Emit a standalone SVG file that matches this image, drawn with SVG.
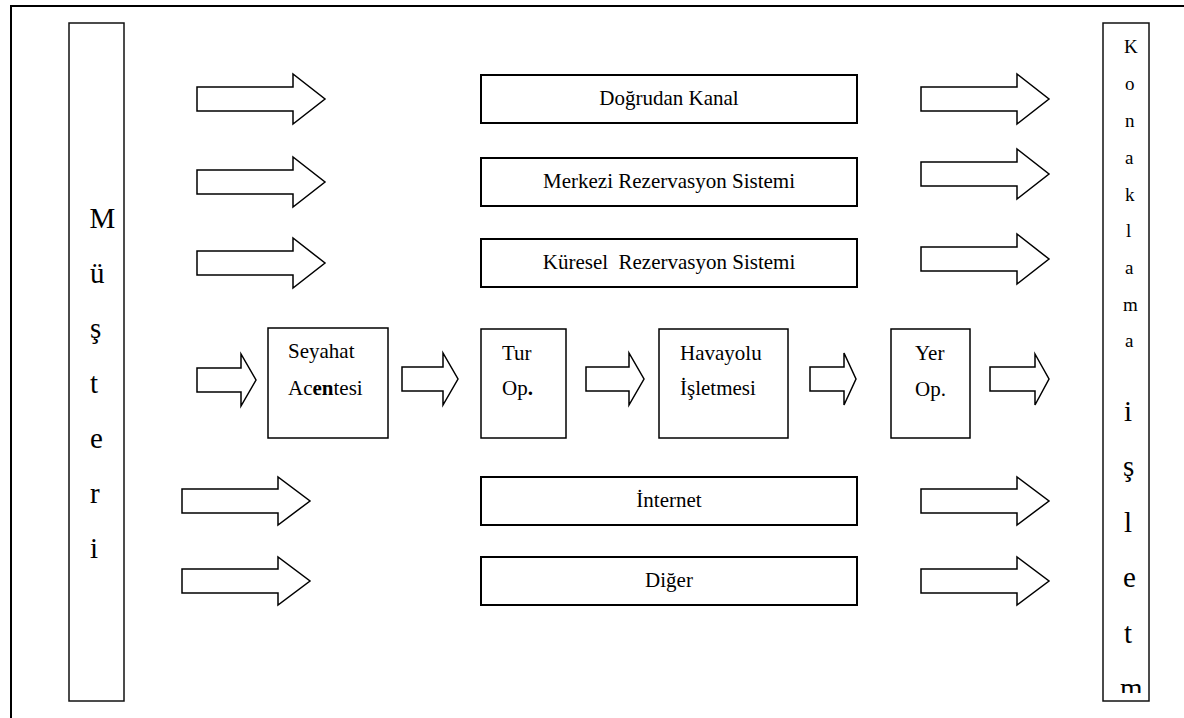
<svg xmlns="http://www.w3.org/2000/svg" width="1184" height="718" viewBox="0 0 1184 718">
<defs>
<style>
.frame{fill:none;stroke:#000;stroke-width:2}
.col{fill:#fff;stroke:#111;stroke-width:1.5}
.wide{fill:#fff;stroke:#000;stroke-width:2}
.small{fill:#fff;stroke:#000;stroke-width:1.5}
.arrow{fill:#fff;stroke:#000;stroke-width:1.5;stroke-linejoin:miter}
text{font-family:'Liberation Serif','Times New Roman',serif;fill:#000}
.lbl{font-size:21px;text-anchor:middle}
.sl{font-size:21px}
.big{font-size:29px}
.k{font-size:19px}
</style>
<clipPath id="kclip"><rect x="1103" y="23" width="46" height="670"/></clipPath>
</defs>
<rect width="1184" height="718" fill="#fff"/>
<path class="frame" d="M11,718 V6 H1184"/>

<g id="musteri">
<rect class="col" x="69" y="23" width="55" height="678"/>
<text class="big" x="89.5" y="228">M</text>
<text class="big" x="90" y="283">ü</text>
<text class="big" x="90" y="338">ş</text>
<text class="big" x="90" y="393">t</text>
<text class="big" x="90" y="448">e</text>
<text class="big" x="90" y="503">r</text>
<text class="big" x="90" y="558">i</text>
</g>

<g id="konaklama">
<rect class="col" x="1103" y="23" width="46" height="678"/>
<g clip-path="url(#kclip)">
<text class="k" x="1124" y="53">K</text>
<text class="k" x="1125" y="90">o</text>
<text class="k" x="1125" y="127">n</text>
<text class="k" x="1125" y="164">a</text>
<text class="k" x="1125" y="201">k</text>
<text class="k" x="1126" y="237">l</text>
<text class="k" x="1125" y="274">a</text>
<text class="k" x="1123" y="311">m</text>
<text class="k" x="1125" y="347">a</text>
<text class="big" x="1124" y="421">i</text>
<text class="big" x="1123" y="476">ş</text>
<text class="big" x="1124" y="532">l</text>
<text class="big" x="1123" y="587">e</text>
<text class="big" x="1124" y="643">t</text>
<text class="big" x="1120" y="698">m</text>
</g>
</g>

<g id="dogrudan">
<rect class="wide" x="481" y="75" width="376" height="48"/>
<text class="lbl" x="669" y="105">Doğrudan Kanal</text>
</g>
<g id="merkezi">
<rect class="wide" x="481" y="158" width="376" height="48"/>
<text class="lbl" x="669" y="188">Merkezi Rezervasyon Sistemi</text>
</g>
<g id="kuresel">
<rect class="wide" x="481" y="239" width="376" height="48"/>
<text class="lbl" x="669" y="269" xml:space="preserve">Küresel  Rezervasyon Sistemi</text>
</g>
<g id="internet">
<rect class="wide" x="481" y="477" width="376" height="48"/>
<text class="lbl" x="669" y="507">İnternet</text>
</g>
<g id="diger">
<rect class="wide" x="481" y="557" width="376" height="48"/>
<text class="lbl" x="669" y="587">Diğer</text>
</g>

<g id="seyahat">
<rect class="small" x="268" y="328" width="120" height="110"/>
<text class="sl" x="288" y="358">Seyahat</text>
<text class="sl" x="288" y="395">Ac<tspan font-weight="bold">en</tspan>tesi</text>
</g>
<g id="turop">
<rect class="small" x="481" y="329" width="85" height="109"/>
<text class="sl" x="502" y="360">Tur</text>
<text class="sl" x="502" y="395">Op<tspan font-weight="bold">.</tspan></text>
</g>
<g id="havayolu">
<rect class="small" x="659" y="329" width="129" height="109"/>
<text class="sl" x="680" y="360">Havayolu</text>
<text class="sl" x="680" y="395">İşletmesi</text>
</g>
<g id="yerop">
<rect class="small" x="891" y="329" width="79" height="109"/>
<text class="sl" x="915" y="360">Yer</text>
<text class="sl" x="915" y="396">Op.</text>
</g>

<g id="connectors">
<polygon class="arrow" points="197,87 293,87 293,74 325,99 293,124 293,111 197,111"/>
<polygon class="arrow" points="197,170 293,170 293,157 325,182 293,207 293,194 197,194"/>
<polygon class="arrow" points="197,251 293,251 293,238 325,263 293,288 293,275 197,275"/>
<polygon class="arrow" points="921,87 1017,87 1017,74 1049,99 1017,124 1017,111 921,111"/>
<polygon class="arrow" points="921,162 1017,162 1017,149 1049,174 1017,199 1017,186 921,186"/>
<polygon class="arrow" points="921,247 1017,247 1017,234 1049,259 1017,284 1017,271 921,271"/>
<polygon class="arrow" points="197,368 241,368 241,354 256,380 241,406 241,392 197,392"/>
<polygon class="arrow" points="402,367 443,367 443,353 458,379 443,405 443,391 402,391"/>
<polygon class="arrow" points="586,367 629,367 629,353 644,379 629,405 629,391 586,391"/>
<polygon class="arrow" points="810,367 844,367 844,353 856,379 844,405 844,391 810,391"/>
<polygon class="arrow" points="990,367 1035,367 1035,354 1049,379 1035,405 1035,391 990,391"/>
<polygon class="arrow" points="182,489 278,489 278,477 310,501 278,525 278,513 182,513"/>
<polygon class="arrow" points="182,569 278,569 278,557 310,581 278,605 278,593 182,593"/>
<polygon class="arrow" points="921,489 1017,489 1017,477 1049,501 1017,525 1017,513 921,513"/>
<polygon class="arrow" points="921,569 1017,569 1017,557 1049,581 1017,605 1017,593 921,593"/>
</g>
</svg>
